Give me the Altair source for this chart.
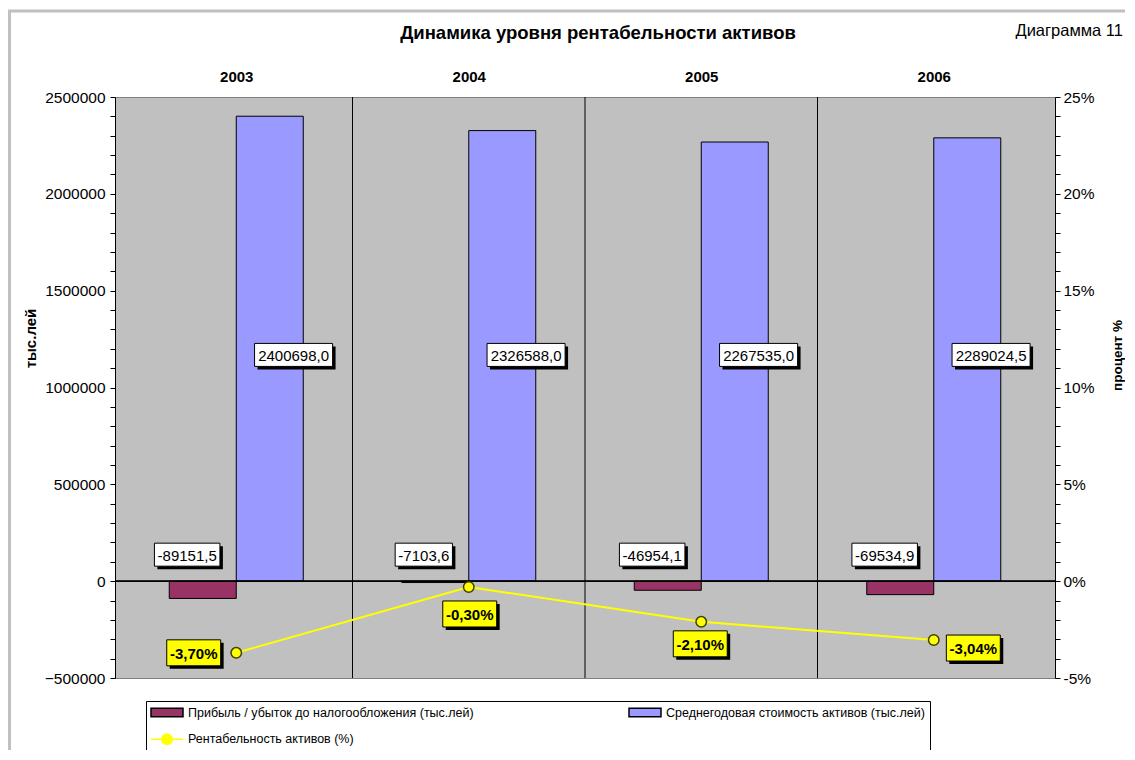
import altair as alt
import pandas as pd

# ---------------- data ----------------
years = ["2003", "2004", "2005", "2006"]
profit = [-89151.5, -7103.6, -46954.1, -69534.9]
assets = [2400698.0, 2326588.0, 2267535.0, 2289024.5]
roa = [-3.70, -0.30, -2.10, -3.04]

S_PROFIT = "Прибыль / убыток до налогообложения (тыс.лей)"
S_ASSETS = "Среднегодовая стоимость активов (тыс.лей)"
S_ROA = "Рентабельность активов (%)"
series = [S_PROFIT, S_ASSETS, S_ROA]
colors = ["#993366", "#9999FF", "#FFFF00"]
legend_strokes = ["#000000", "#000000", "#FFFF00"]

title_text = "Динамика уровня рентабельности активов"
chart_no = "Диаграмма 11"
y_left_title = "тыс.лей"
y_right_title = "процент %"

# where each percentage label sits relative to its point (px, right/down)
roa_label_offset = [(-43, 0), (1, 27), (-1, 22), (40, 8)]

# ---------------- layout helpers ----------------
W, H = 940, 581
L_DOM = [-500000, 2500000]
R_DOM = [-5, 25]
PXX = W / len(years)
PXL = H / (L_DOM[1] - L_DOM[0])
PXR = H / (R_DOM[1] - R_DOM[0])
FONT = "Liberation Sans"
BAR_W = 67

CW = {d: 0.556 for d in "0123456789"}
CW.update({"-": 0.333, ",": 0.278, "%": 0.889})


def tw(s, size):
    return sum(CW.get(c, 0.556) for c in s) * size


def fmt(v, d):
    return f"{v:.{d}f}".replace(".", ",")


def box(anchor_x, anchor_v, pxv, cx_px, cy_px, w, h, text):
    cx = anchor_x + cx_px / PXX
    cy = anchor_v - cy_px / pxv
    l, r = cx - w / 2 / PXX, cx + w / 2 / PXX
    t, b = cy + h / 2 / pxv, cy - h / 2 / pxv
    return dict(l=l, r=r, t=t, b=b,
                sl=l + 3 / PXX, sr=r + 3 / PXX, st=t - 3 / pxv, sb=b - 3 / pxv,
                tx=cx, ty=cy, text=text)


base = pd.DataFrame({
    "year": years,
    "idx": list(range(len(years))),
    "xc": [i + 0.5 for i in range(len(years))],
    "profit": profit,
    "assets": assets,
    "roa": roa,
    "zero": [0] * len(years),
})

mean_half = sum(assets) / len(assets) / 2
profit_lbl, assets_lbl, roa_lbl = [], [], []
for i in range(len(years)):
    xc = i + 0.5
    t = fmt(profit[i], 1)
    w = tw(t, 15) + 7
    profit_lbl.append(box(xc, 0, PXL, -BAR_W / 2 + 17 - w / 2, -26.5, w, 23, t))
    t = fmt(assets[i], 1)
    w = tw(t, 15) + 8
    assets_lbl.append(box(xc, mean_half, PXL, BAR_W / 2 - 15 + w / 2, -1.5, w, 23, t))
    t = fmt(roa[i], 2) + "%"
    w = tw(t, 15) + 7
    dx, dy = roa_label_offset[i]
    roa_lbl.append(box(xc, roa[i], PXR, dx, dy, w, 26, t))
profit_lbl = pd.DataFrame(profit_lbl)
assets_lbl = pd.DataFrame(assets_lbl)
roa_lbl = pd.DataFrame(roa_lbl)

# ---------------- scales & axes ----------------
xs = alt.Scale(domain=[0, len(years)], nice=False, zero=False)
yl = alt.Scale(domain=L_DOM, nice=False, zero=False)
yr = alt.Scale(domain=R_DOM, nice=False, zero=False)
cs = alt.Scale(domain=series, range=colors)
strs = alt.Scale(domain=series, range=legend_strokes)

# legend symbols (unit = 5 px with symbolSize 100)
rect_path = "M-1.25,-0.85H5.15V0.85H-1.25Z"
line_path = ("M-1.25,0H0.9M3,0H5.15M0.9,0A1.05,1.05 0 1,0 3,0"
             "A1.05,1.05 0 1,0 0.9,0Z")
ss = alt.Scale(domain=series, range=[rect_path, rect_path, line_path])

left_values = list(range(L_DOM[0], L_DOM[1] + 1, 100000))
right_values = list(range(R_DOM[0], R_DOM[1] + 1))

year_js = "[" + ",".join(f"'{y}'" for y in years) + "]"
x_axis = alt.Axis(orient="top", values=[i + 0.5 for i in range(len(years))],
                  labelExpr=f"{year_js}[floor(datum.value)]", domain=False,
                  ticks=False, grid=False, labelFont=FONT, labelFontSize=15,
                  labelFontWeight="bold", labelColor="black", labelPadding=13,
                  title=None, zindex=1)

left_axis = alt.Axis(orient="left", values=left_values, tickCount=len(left_values) + 5,
                     format="d", labelOverlap=False,
                     labelExpr="datum.value % 500000 === 0 ? datum.label : ''",
                     tickSize=5,
                     grid=False, labelFont=FONT, labelFontSize=15.5,
                     labelColor="black", labelPadding=5, tickColor="black",
                     domainColor="black", title=y_left_title, titleFont=FONT,
                     titleFontSize=15, titleFontWeight="bold", titleColor="black",
                     titleAngle=270, titleX=-85, titleY=241, titleAlign="center",
                     titleBaseline="middle", zindex=1)

right_axis = alt.Axis(orient="right", values=right_values,
                      tickCount=len(right_values) + 5, labelOverlap=False,
                      labelExpr="datum.value % 5 === 0 ? datum.value + '%' : ''",
                      tickSize=5,
                      grid=False, labelFont=FONT, labelFontSize=15.5,
                      labelColor="black", labelPadding=3, tickColor="black",
                      domainColor="black", title=y_right_title, titleFont=FONT,
                      titleFontSize=13.5, titleFontWeight="bold", titleColor="black",
                      titleAngle=270, titleX=62, titleY=258, titleAlign="center",
                      titleBaseline="middle", zindex=1)


def X(f, axis=alt.Undefined):
    return alt.X(f"{f}:Q", scale=xs, axis=axis)


def YL(f, axis=alt.Undefined):
    return alt.Y(f"{f}:Q", scale=yl, axis=axis)


def YR(f, axis=alt.Undefined):
    return alt.Y(f"{f}:Q", scale=yr, axis=axis)


def label_layers(df, Y, fill, bold):
    shadow = alt.Chart(df).mark_rect(color="black").encode(
        x=X("sl"), x2="sr", y=Y("st"), y2="sb")
    bx = alt.Chart(df).mark_rect(fill=fill, stroke="black", strokeWidth=1).encode(
        x=X("l"), x2="r", y=Y("t"), y2="b")
    tx = alt.Chart(df).mark_text(font=FONT, fontSize=15,
                                 fontWeight="bold" if bold else "normal",
                                 color="black", align="center",
                                 baseline="middle", dy=1).encode(
        x=X("tx"), y=Y("ty"), text="text:N")
    return [shadow, bx, tx]


# ---------------- left-axis group ----------------
frame = alt.Chart(pd.DataFrame({"k": [0]})).mark_rect(
    fillOpacity=0, stroke="#C0C0C0", strokeWidth=3).encode(
    x=alt.value(-105.5), x2=alt.value(1100), y=alt.value(-86), y2=alt.value(800))

note = alt.Chart(pd.DataFrame({"t": [chart_no]})).mark_text(
    font=FONT, fontSize=16.5, align="right", baseline="middle", color="black").encode(
    x=alt.value(1008), y=alt.value(-66), text="t:N")

bars_p = alt.Chart(base).mark_bar(size=BAR_W, xOffset=-BAR_W / 2, fill=colors[0],
                                  stroke="black", strokeWidth=1).encode(
    x=X("xc", x_axis), y=YL("profit", left_axis))

bars_a = alt.Chart(base).mark_bar(size=BAR_W, xOffset=BAR_W / 2, fill=colors[1],
                                  stroke="black", strokeWidth=1).encode(
    x=X("xc"), y=YL("assets"))

seps = alt.Chart(base).transform_filter("datum.idx > 0").mark_rule(
    color="black", strokeWidth=1).encode(x=X("idx"))

zero_rule = alt.Chart(base).mark_rule(color="black", strokeWidth=1).encode(
    y=YL("zero"))

legend = alt.Legend(
    title=None, orient="none", legendX=31, legendY=604, columns=2,
    direction="horizontal", values=series,
    columnPadding=152, rowPadding=10, padding=5, strokeColor="black",
    fillColor="white", labelFont=FONT, labelFontSize=12.5, labelColor="black",
    labelLimit=700, labelOffset=24.5, symbolSize=100, symbolStrokeWidth=1.5,
    labelExpr=f"datum.label === '{S_ASSETS}' ? datum.label + '" + "\u00a0" * 32 + "' : datum.label",
)

leg_df = pd.DataFrame({"series": series, "xc": [0.5] * 3, "v": [0] * 3})
leg_carrier = alt.Chart(leg_df).transform_filter("false").mark_point(
    filled=True, opacity=1).encode(
    x=X("xc"), y=YL("v"),
    color=alt.Color("series:N", scale=cs, legend=legend),
    stroke=alt.Stroke("series:N", scale=strs, legend=legend),
    shape=alt.Shape("series:N", scale=ss, legend=legend))

left = alt.layer(
    bars_p, bars_a, seps, zero_rule,
    *label_layers(profit_lbl, YL, "white", False),
    *label_layers(assets_lbl, YL, "white", False),
    leg_carrier, frame, note,
)

# ---------------- right-axis group ----------------
line = alt.Chart(base).mark_line(color="#FFFF00", strokeWidth=2).encode(
    x=X("xc"), y=YR("roa", right_axis))
pts = alt.Chart(base).mark_circle(size=110, fill="#FFFF00", stroke="#404000",
                                  strokeWidth=1.5, opacity=1).encode(
    x=X("xc"), y=YR("roa"))

right = alt.layer(line, pts, *label_layers(roa_lbl, YR, "#FFFF00", True))

chart = alt.layer(left, right).resolve_scale(y="independent").properties(
    width=W, height=H,
    autosize=alt.AutoSizeParams(type="none"),
    padding={"left": 107, "top": 89, "right": 70, "bottom": 72},
    background="white",
    title=alt.TitleParams(text=title_text, font=FONT, fontSize=18.5,
                          fontWeight="bold", anchor="middle", dx=13,
                          offset=-33, color="black"),
).configure_view(fill="#C0C0C0", stroke="#808080", strokeWidth=1)

chart.save("out.html", embed_options={"renderer": "svg", "actions": False})
